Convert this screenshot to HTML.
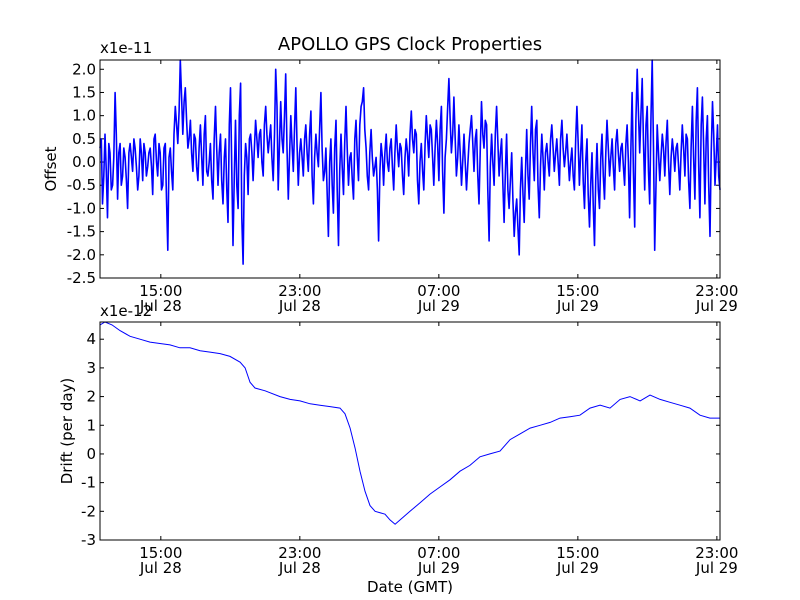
<!DOCTYPE html>
<html><head><meta charset="utf-8"><style>body{margin:0;background:#fff}svg{display:block;font-family:"DejaVu Sans","Liberation Sans",sans-serif}</style></head>
<body>
<svg id="c" width="800" height="600" viewBox="0 0 800 600" xmlns="http://www.w3.org/2000/svg">
<rect width="800" height="600" fill="#fff"/>
<text x="410" y="50" font-size="18" text-anchor="middle">APOLLO GPS Clock Properties</text>
<g id="g"></g>
</svg>
<script>
const offsetVals = [0.3,-0.9,0.6,-1.2,0.2,-0.5,1.5,-0.8,0.4,-0.3,
0.1,-1.0,0.4,-0.2,0.3,-0.6,0.5,-0.4,0.2,-0.1,
0.3,-0.7,0.6,-0.3,0.2,-0.5,0.4,-1.9,0.3,-0.6,
1.2,0.4,2.2,0.6,1.6,0.3,0.9,-0.2,0.5,-0.4,
0.8,-0.5,1.0,-0.3,0.4,-0.8,1.2,-0.5,0.6,-0.9,
0.5,-1.3,1.6,-1.8,0.9,-1.0,1.7,-2.2,0.4,-0.7,
0.6,-0.4,0.9,0.1,0.7,-0.3,1.2,0.2,0.8,-0.4,
2.0,-0.6,1.3,0.2,1.9,-0.8,1.0,-0.2,1.6,-0.5,
0.5,-0.3,0.8,-0.2,1.1,-0.9,0.6,-0.1,1.5,-0.4,
0.3,-1.6,0.5,-1.1,0.9,-1.8,0.6,-0.7,1.2,-0.5,
0.2,-0.8,0.9,-0.4,1.2,1.6,0.3,-0.6,0.7,-0.3,
0.1,-1.7,0.4,-0.5,0.6,-0.2,0.5,-0.6,0.8,-0.1,
0.3,-0.7,0.5,-0.3,1.1,0.2,0.6,-0.9,0.4,-0.6,
1.0,0.1,0.7,-0.5,0.9,-0.4,1.2,-1.1,0.5,1.8,
0.2,1.4,-0.3,0.8,-0.5,0.6,-0.6,0.4,1.0,-0.2,
0.7,-0.9,1.3,0.3,0.8,-1.7,0.6,-0.5,1.2,-0.3,
0.5,-1.3,0.6,-1.0,0.2,-1.6,-0.8,-2.0,0.1,-1.3,
0.7,-0.8,1.2,-0.4,0.9,-1.2,0.6,-0.6,0.4,-0.3,
0.8,-0.2,0.5,-0.5,0.9,-0.1,0.6,-0.4,0.3,-0.6,
1.2,-0.5,0.8,-1.0,0.5,-1.4,0.2,-1.8,0.4,-1.0,
0.6,-0.8,0.9,-0.3,0.5,-0.6,0.7,-0.2,0.4,-0.5,
0.8,-1.2,1.5,-1.4,2.0,0.2,1.8,-0.6,1.2,-0.9,
2.2,-1.9,0.8,-0.4,0.6,-0.3,0.9,-0.7,0.5,-0.2,
0.4,-0.6,0.8,-0.3,0.5,-1.0,1.2,-0.8,1.6,-1.2,
1.4,-0.9,1.0,-1.6,1.3,-0.5,0.8,-0.6];
const offsetValsMid = [0.5,-0.3,-0.2,0.4,-0.6,0.1,0.6,0.2,-0.5,0.3,
-0.4,0.2,0.1,0.5,-0.1,-0.3,0.2,0.4,-0.3,0.2,
-0.1,0.5,0.0,0.4,-0.6,0.3,-0.8,0.1,-0.2,0.6,
0.8,1.1,1.4,1.3,0.9,0.5,0.2,0.6,-0.1,0.3,
0.1,0.6,-0.2,0.0,-0.4,0.5,0.3,0.2,-0.4,0.1,
-0.6,0.8,-0.2,-0.3,-0.5,1.0,-1.2,-0.3,0.1,0.5,
0.2,0.3,0.5,0.6,0.0,0.8,0.6,0.5,0.1,0.6,
1.2,0.4,0.5,1.0,0.3,0.1,0.4,0.7,0.4,0.2,
0.1,0.5,0.2,0.6,-0.3,0.1,0.2,0.7,0.3,-0.2,
-0.7,0.0,-0.5,0.3,-0.6,-0.2,-0.1,0.4,0.3,0.1,
-0.4,0.5,0.1,0.8,1.3,0.7,-0.3,0.2,0.1,-0.1,
-0.6,-0.2,0.1,0.2,0.0,0.3,-0.1,0.2,0.3,0.4,
-0.3,0.1,0.2,0.6,0.5,0.7,-0.4,0.0,-0.2,0.4,
0.5,0.8,0.1,0.3,0.4,0.7,-0.2,0.1,1.2,0.9,
0.6,0.5,0.1,0.2,0.0,0.0,-0.1,0.7,0.4,0.5,
-0.3,0.3,0.6,0.9,-0.6,-0.1,0.0,0.6,0.4,0.2,
-0.5,-0.2,-0.6,-0.4,-0.8,-1.1,-1.4,-0.6,-0.7,-0.2,
-0.3,0.4,0.2,0.7,-0.5,-0.1,0.1,0.2,0.0,0.5,
0.3,0.2,0.0,0.5,0.3,0.2,0.1,0.0,-0.3,0.5,
0.4,0.2,-0.4,0.0,-0.7,-0.5,-0.9,-0.4,-0.6,0.1,
-0.3,0.2,0.3,0.1,-0.1,0.4,0.2,0.3,-0.1,0.4,
0.0,0.3,-0.2,0.9,1.1,1.0,0.5,0.8,-0.2,1.0,
0.3,-0.5,0.2,0.1,0.3,0.4,0.0,0.1,0.2,0.3,
-0.1,0.2,0.3,0.6,-0.4,0.3,0.1,0.9,-0.1,0.8,
0.3,0.5,-0.5,0.2,0.6,0.1,-0.3,0.5];
const offsetStart = 11.5, offsetEnd = 47.18;
const driftTimes = [11.50,11.79,12.19,12.65,13.23,13.80,14.38,14.95,15.53,16.10,16.68,17.26,17.83,18.41,18.98,19.56,19.85,20.13,20.42,21.00,21.86,22.44,23.01,23.59,24.16,24.74,25.31,25.60,25.89,26.18,26.46,26.75,27.04,27.33,27.90,28.19,28.48,28.77,29.34,29.92,30.49,31.07,31.64,32.22,32.79,33.37,33.94,34.52,35.10,35.67,36.25,36.82,37.40,37.97,38.55,39.12,39.70,40.28,40.85,41.43,42.00,42.58,43.15,43.73,44.30,44.88,45.45,46.03,46.60,47.18];
const driftVals = [4.5,4.6,4.5,4.3,4.1,4.0,3.9,3.85,3.8,3.7,3.7,3.6,3.55,3.5,3.4,3.2,3.0,2.5,2.3,2.2,2.0,1.9,1.85,1.75,1.7,1.65,1.6,1.4,0.9,0.2,-0.6,-1.3,-1.8,-2.0,-2.1,-2.3,-2.45,-2.3,-2.0,-1.7,-1.4,-1.15,-0.9,-0.6,-0.4,-0.1,0.0,0.1,0.5,0.7,0.9,1.0,1.1,1.25,1.3,1.35,1.6,1.7,1.6,1.9,2.0,1.85,2.05,1.9,1.8,1.7,1.6,1.35,1.25,1.25];
const xTickHours = [15,23,31,39,47];
const xTickTimes = ["15:00","23:00","07:00","15:00","23:00"];
const xTickDates = ["Jul 28","Jul 28","Jul 29","Jul 29","Jul 29"];
const topTicks = [-2.5,-2.0,-1.5,-1.0,-0.5,0.0,0.5,1.0,1.5,2.0];
const botTicks = [-3,-2,-1,0,1,2,3,4];

const NS="http://www.w3.org/2000/svg", g=document.getElementById('g');
function mk(t,a,p){const e=document.createElementNS(NS,t);for(const k in a)e.setAttribute(k,a[k]);(p||g).appendChild(e);return e;}
const L=100,R=720;
const xs=h=>L+(h-offsetStart)/(offsetEnd-offsetStart)*(R-L);
function axes(top,bot,ymin,ymax,ticks,fmt,name){
  const ys=v=>bot-(v-ymin)/(ymax-ymin)*(bot-top);
  xTickHours.forEach((h,i)=>{
    const x=xs(h);
    const t1=mk('line',{x1:x,x2:x,y1:bot,y2:bot-4,stroke:'#000'});
    
    
    mk('line',{x1:x,x2:x,y1:top,y2:top+4,stroke:'#000'});
    const tx=mk('text',{x:x,y:bot+18,'font-size':15,'text-anchor':'middle'});tx.textContent=xTickTimes[i];
    
    
    const td=mk('text',{x:x,y:bot+33,'font-size':15,'text-anchor':'middle'});td.textContent=xTickDates[i];
    
    
  });
  ticks.forEach(v=>{
    const y=ys(v);
    mk('line',{x1:L,x2:L+4,y1:y,y2:y,stroke:'#000'});
    mk('line',{x1:R,x2:R-4,y1:y,y2:y,stroke:'#000'});
    const t=mk('text',{x:L-4,y:y+5,'font-size':15,'text-anchor':'end'});t.textContent=fmt(v);
    
    
  });
  return ys;
}
// top
const ys1=axes(60,278,-2.5,2.2,topTicks,v=>v.toFixed(1),'offset');
const n=offsetVals.length, step=(offsetEnd-offsetStart)/(n-1);
const clip=v=>Math.max(-2.5,Math.min(2.2,v));
let d='';
offsetVals.forEach((v,i)=>{
  const h=offsetStart+i*step;
  d+=(i?'L':'M')+xs(h).toFixed(1)+','+ys1(clip(v)).toFixed(1);
  if(i<n-1&&offsetValsMid[i]!==undefined){d+='L'+xs(h+step/2).toFixed(1)+','+ys1(clip(offsetValsMid[i])).toFixed(1);}
});
const p1=mk('path',{d:d,fill:'none',stroke:'#00f','stroke-width':1.6,'stroke-linejoin':'round'});


const f1=mk('rect',{x:L,y:60,width:R-L,height:218,fill:'none',stroke:'#000'});


const o1=mk('text',{x:L,y:53,'font-size':15});o1.textContent='x1e-11';


const yl1=mk('text',{x:56,y:169,'font-size':15,'text-anchor':'middle',transform:'rotate(-90 56 169)'});yl1.textContent='Offset';


// bottom
const ys2=axes(322,540,-3,4.6,botTicks,v=>String(v),'drift');
let d2='';driftTimes.forEach((h,i)=>{d2+=(i?'L':'M')+xs(h).toFixed(1)+','+ys2(driftVals[i]).toFixed(1);});
const p2=mk('path',{d:d2,fill:'none',stroke:'#00f','stroke-width':1});


const f2=mk('rect',{x:L,y:322,width:R-L,height:218,fill:'none',stroke:'#000'});


const o2=mk('text',{x:L,y:316,'font-size':15});o2.textContent='x1e-12';


const yl2=mk('text',{x:72,y:431,'font-size':15,'text-anchor':'middle',transform:'rotate(-90 72 431)'});yl2.textContent='Drift (per day)';


const xl=mk('text',{x:410,y:592,'font-size':15,'text-anchor':'middle'});xl.textContent='Date (GMT)';


</script>
</body></html>
